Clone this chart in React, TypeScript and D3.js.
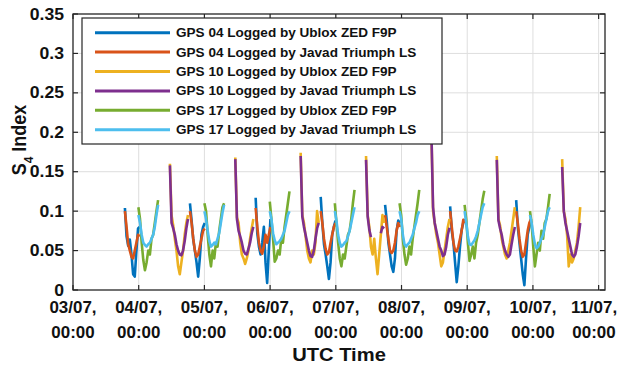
import React, { useEffect, useRef } from 'react'
import * as d3 from 'd3'

// time axis in days since 03/07 00:00, one sample every STEP days inside a pass
const STEP = 0.025
const DAY_LABELS = ['03/07', '04/07', '05/07', '06/07', '07/07', '08/07', '09/07', '10/07', '11/07']
const Y_TICKS = [0, 0.05, 0.1, 0.15, 0.2, 0.25, 0.3, 0.35]

const gps04Start = [0.79, 1.78, 2.78, 3.77, 4.75, 5.74, 6.745]
const gps10Start = [1.475, 2.47, 3.465, 4.46, 5.455, 6.45, 7.445]
const gps17Start = [0.995, 2.0, 2.995, 3.985, 4.97, 5.96, 6.955]

const gps04Ublox = [
  [0.104, 0.068, 0.056, 0.064, 0.045, 0.02, 0.017, 0.05, 0.078, 0.08],
  [0.11, 0.088, 0.064, 0.05, 0.035, 0.017, 0.04, 0.07, 0.08, 0.085],
  [0.117, 0.072, 0.055, 0.045, 0.06, 0.08, 0.035, 0.009, 0.05, 0.09],
  [0.118, 0.085, 0.058, 0.045, 0.03, 0.014, 0.035, 0.07, 0.08, 0.088],
  [0.108, 0.088, 0.06, 0.045, 0.03, 0.023, 0.04, 0.075, 0.088, 0.085],
  [0.106, 0.075, 0.06, 0.035, 0.01, 0.03, 0.055, 0.076, 0.085, 0.09],
  [0.114, 0.08, 0.06, 0.04, 0.02, 0.006, 0.04, 0.07, 0.08, 0.09],
]
const gps04Javad = [
  [0.1, 0.08, 0.058, 0.05, 0.042, 0.04, 0.05, 0.06, 0.07, 0.068],
  [0.1, 0.085, 0.065, 0.05, 0.042, 0.045, 0.055, 0.065, 0.075, 0.078],
  [0.104, 0.08, 0.06, 0.05, 0.046, 0.055, 0.07, 0.06, 0.07, 0.08],
  [0.1, 0.085, 0.065, 0.052, 0.045, 0.048, 0.06, 0.07, 0.08, 0.085],
  [0.095, 0.08, 0.065, 0.05, 0.047, 0.05, 0.06, 0.075, 0.085, 0.08],
  [0.1, 0.08, 0.06, 0.05, 0.049, 0.055, 0.065, 0.075, 0.089, 0.085],
  [0.1, 0.085, 0.065, 0.05, 0.042, 0.045, 0.06, 0.075, 0.085, 0.09],
]
const gps10Ublox = [
  [0.16, 0.095, 0.082, 0.065, 0.05, 0.03, 0.02, 0.035, 0.05, 0.07, 0.085, 0.095],
  [0.168, 0.092, 0.085, 0.06, 0.045, 0.04, 0.033, 0.04, 0.05, 0.065, 0.078, 0.09],
  [0.174, 0.095, 0.085, 0.068, 0.05, 0.04, 0.035, 0.05, 0.045, 0.06, 0.1, 0.085],
  [0.17, 0.095, 0.08, 0.055, 0.045, 0.065, 0.04, 0.02, 0.045, 0.07, 0.095, 0.085],
  [0.2, 0.1, 0.085, 0.07, 0.06, 0.045, 0.03, 0.035, 0.05, 0.065, 0.08, 0.09],
  [0.17, 0.09, 0.082, 0.065, 0.055, 0.045, 0.04, 0.05, 0.06, 0.075, 0.09, 0.105],
  [0.166, 0.1, 0.09, 0.07, 0.03, 0.045, 0.035, 0.04, 0.05, 0.06, 0.08, 0.105],
]
const gps10Javad = [
  [0.158, 0.085, 0.078, 0.07, 0.058, 0.05, 0.045, 0.044, 0.05, 0.062, 0.078, 0.09],
  [0.166, 0.09, 0.075, 0.068, 0.06, 0.05, 0.046, 0.045, 0.052, 0.06, 0.072, 0.08],
  [0.17, 0.093, 0.08, 0.07, 0.06, 0.05, 0.043, 0.042, 0.05, 0.065, 0.078, 0.085],
  [0.165, 0.093, 0.076, 0.067, null, null, null, null, null, 0.072, 0.08, 0.078],
  [0.2, 0.105, 0.085, 0.075, 0.065, 0.055, 0.05, 0.043, 0.045, 0.055, 0.07, 0.079],
  [0.165, 0.088, 0.078, 0.07, 0.058, 0.05, 0.045, 0.042, 0.045, 0.058, 0.07, 0.08],
  [0.156, 0.1, 0.085, 0.075, 0.065, 0.055, 0.045, 0.042, 0.045, 0.055, 0.068, 0.085],
]
const gps17Ublox = [
  [0.105, 0.09, 0.06, 0.038, 0.025, 0.035, 0.05, 0.045, 0.065, 0.07, 0.085, 0.1, 0.114],
  [0.11, 0.1, 0.07, 0.045, 0.03, 0.05, 0.04, 0.06, 0.055, 0.075, 0.09, 0.105, 0.11],
  [0.112, 0.09, 0.065, 0.036, 0.04, 0.05, 0.045, 0.065, 0.06, 0.08, 0.095, 0.11, 0.125],
  [0.11, 0.085, 0.06, 0.04, 0.03, 0.045, 0.04, 0.055, 0.07, 0.075, 0.09, 0.11, 0.127],
  [0.11, 0.095, 0.065, 0.045, 0.032, 0.04, 0.055, 0.045, 0.065, 0.08, 0.095, 0.11, 0.127],
  [0.108, 0.09, 0.06, 0.037, 0.045, 0.055, 0.04, 0.06, 0.07, 0.085, 0.1, 0.115, 0.126],
  [0.1, 0.085, 0.055, 0.03, 0.045, 0.06, 0.05, 0.075, 0.065, 0.085, 0.09, 0.105, 0.122],
]
const gps17Javad = [
  [0.095, 0.085, 0.07, 0.06, 0.057, 0.055, 0.058, 0.06, 0.065, 0.07, 0.08, 0.095, 0.108],
  [0.1, 0.09, 0.075, 0.062, 0.055, 0.057, 0.06, 0.058, 0.065, 0.072, 0.085, 0.098, 0.108],
  [0.1, 0.09, 0.072, 0.063, 0.058, 0.06, 0.062, 0.065, 0.07, 0.075, 0.085, 0.095, 0.1],
  [0.1, 0.088, 0.07, 0.06, 0.055, 0.057, 0.06, 0.062, 0.068, 0.075, 0.085, 0.095, 0.105],
  [0.1, 0.09, 0.07, 0.058, 0.055, 0.058, 0.06, 0.065, 0.07, 0.078, 0.085, 0.095, 0.1],
  [0.1, 0.085, 0.068, 0.058, 0.057, 0.06, 0.063, 0.068, 0.075, 0.085, 0.095, 0.105, 0.11],
  [0.095, 0.085, 0.07, 0.058, 0.053, 0.055, 0.06, 0.065, 0.07, 0.08, 0.09, 0.1, 0.105],
]

const SERIES = [
  { name: 'GPS 04 Logged by Ublox ZED F9P', color: '#0072BD', starts: gps04Start, passes: gps04Ublox },
  { name: 'GPS 04 Logged by Javad Triumph LS', color: '#D95319', starts: gps04Start, passes: gps04Javad },
  { name: 'GPS 10 Logged by Ublox ZED F9P', color: '#EDB120', starts: gps10Start, passes: gps10Ublox },
  { name: 'GPS 10 Logged by Javad Triumph LS', color: '#7E2F8E', starts: gps10Start, passes: gps10Javad },
  { name: 'GPS 17 Logged by Ublox ZED F9P', color: '#77AC30', starts: gps17Start, passes: gps17Ublox },
  { name: 'GPS 17 Logged by Javad Triumph LS', color: '#4DBEEE', starts: gps17Start, passes: gps17Javad },
]

const FONT = "'Liberation Sans', Arial, Helvetica, sans-serif"
const INK = '#262626'

export default function App(){
  const svgRef = useRef<SVGSVGElement>(null)

  useEffect(()=>{
    const width = 619, height = 367
    const L = 73, R = 605, T = 14, B = 290
    const svg = d3.select(svgRef.current).attr('width', width).attr('height', height)
      .attr('font-family', FONT).attr('font-weight', 'bold')
    svg.selectAll('*').remove()

    const x = d3.scaleLinear().domain([0, 8.097]).range([L, R])
    const y = d3.scaleLinear().domain([0, 0.35]).range([B, T])
    const dayTicks = DAY_LABELS.map((_, i) => i)

    // grid
    const grid = svg.append('g').attr('stroke', '#dedede').attr('stroke-width', 1)
    grid.selectAll('line.gx').data(dayTicks.slice(1)).join('line').attr('class', 'gx')
      .attr('x1', d => x(d)).attr('x2', d => x(d)).attr('y1', T).attr('y2', B)
    grid.selectAll('line.gy').data(Y_TICKS.slice(1, -1)).join('line').attr('class', 'gy')
      .attr('x1', L).attr('x2', R).attr('y1', d => y(d)).attr('y2', d => y(d))

    // data, passes separated by a gap
    type Pt = { t: number, v: number | null }
    const line = d3.line<Pt>().defined(d => d.v != null).x(d => x(d.t)).y(d => y(d.v as number))
    SERIES.forEach(s => {
      const pts: Pt[] = s.passes.flatMap((vals, k) => [
        ...vals.map((v, i) => ({ t: s.starts[k] + i * STEP, v })),
        { t: NaN, v: null },
      ])
      svg.append('path').datum(pts).attr('d', line).attr('fill', 'none')
        .attr('stroke', s.color).attr('stroke-width', 2.6).attr('stroke-linejoin', 'round')
    })

    // axes box and inward ticks
    svg.append('rect').attr('x', L).attr('y', T).attr('width', R - L).attr('height', B - T)
      .attr('fill', 'none').attr('stroke', INK).attr('stroke-width', 1.3)
    const tk = svg.append('g').attr('stroke', INK).attr('stroke-width', 1.2)
    dayTicks.forEach(d => {
      tk.append('line').attr('x1', x(d)).attr('x2', x(d)).attr('y1', B).attr('y2', B - 5)
      tk.append('line').attr('x1', x(d)).attr('x2', x(d)).attr('y1', T).attr('y2', T + 5)
    })
    Y_TICKS.forEach(v => {
      tk.append('line').attr('x1', L).attr('x2', L + 5).attr('y1', y(v)).attr('y2', y(v))
      tk.append('line').attr('x1', R).attr('x2', R - 5).attr('y1', y(v)).attr('y2', y(v))
    })

    // tick labels
    svg.selectAll('text.yt').data(Y_TICKS).join('text').attr('class', 'yt')
      .attr('transform', d => `translate(${L - 9},${y(d) + 5.5}) scale(1.1,1)`)
      .attr('text-anchor', 'end').attr('font-size', 16).attr('fill', '#111')
      .text(d => String(d))
    // last label is kept inside the picture
    const xt = svg.selectAll('text.xt').data(dayTicks).join('text').attr('class', 'xt')
      .attr('transform', d => `translate(${Math.min(x(d), 594)},${B + 23}) scale(1.06,1)`)
      .attr('text-anchor', 'middle').attr('font-size', 16).attr('fill', '#111')
    xt.append('tspan').attr('x', 0).text(d => DAY_LABELS[d] + ',')
    xt.append('tspan').attr('x', 0).attr('dy', 25).text('00:00')

    // axis titles
    svg.append('text').attr('transform', `translate(${(L + R) / 2},${361}) scale(1.12,1)`)
      .attr('text-anchor', 'middle').attr('font-size', 18).attr('fill', '#111').text('UTC Time')
    const yl = svg.append('text').attr('transform', `translate(26,140) rotate(-90) scale(1,1.12)`)
      .attr('text-anchor', 'middle').attr('font-size', 18).attr('fill', '#111')
    yl.append('tspan').text('S')
    yl.append('tspan').attr('font-size', 12).attr('dy', 6).text('4')
    yl.append('tspan').attr('dy', -6).text(' Index')

    // legend
    const lg = svg.append('g')
    lg.append('rect').attr('x', 82).attr('y', 18).attr('width', 360).attr('height', 126)
      .attr('fill', '#fff').attr('stroke', INK).attr('stroke-width', 1.2)
    SERIES.forEach((s, i) => {
      const ly = 32.7 + i * 19.4
      lg.append('line').attr('x1', 95).attr('x2', 170).attr('y1', ly).attr('y2', ly)
        .attr('stroke', s.color).attr('stroke-width', 3)
      lg.append('text').attr('transform', `translate(176,${ly + 4.5}) scale(1.13,1)`)
        .attr('font-size', 12).attr('fill', '#111').text(s.name)
    })
  }, [])

  return (<div>
    <svg ref={svgRef} style={{ position: 'absolute', left: 0, top: 0, background: '#fff' }}></svg>
  </div>)
}
